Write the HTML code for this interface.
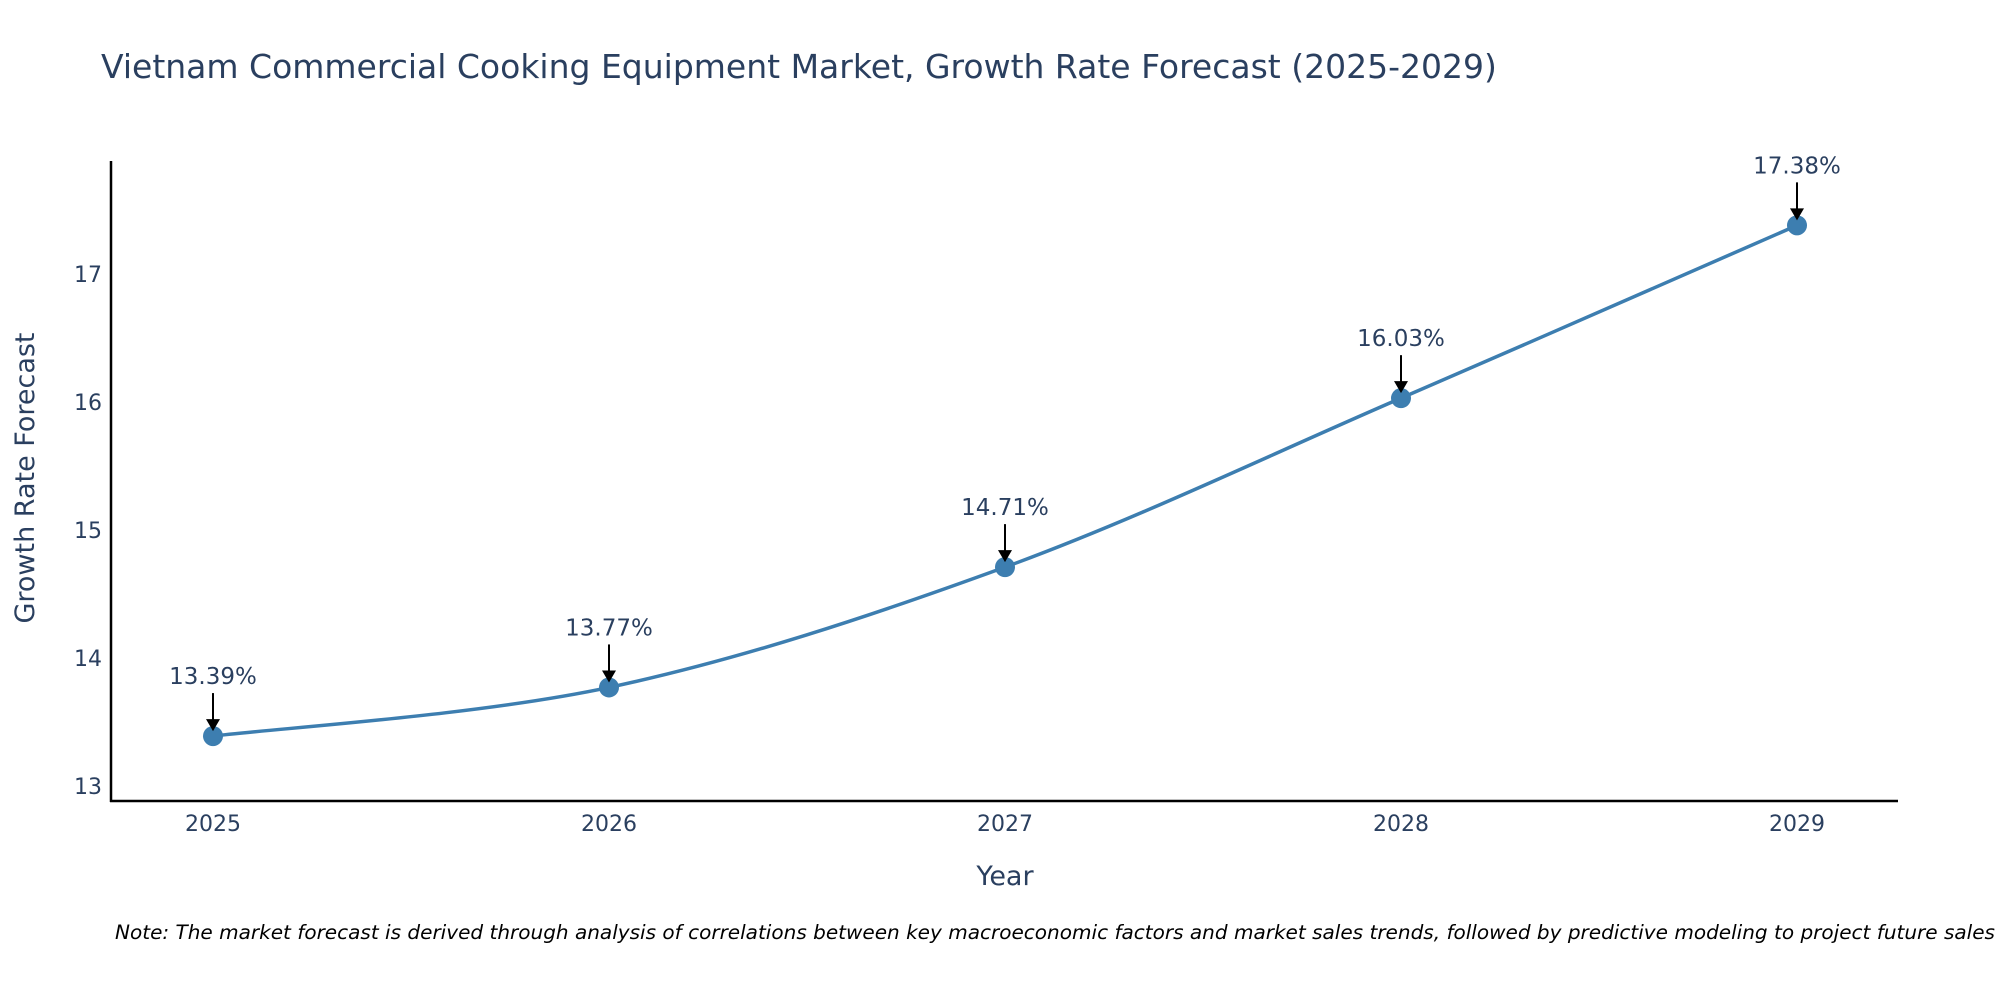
<!DOCTYPE html>
<html><head><meta charset="utf-8"><style>
body{margin:0;background:#fff}
svg{font-family:"DejaVu Sans","Liberation Sans",sans-serif}
</style></head><body>
<svg id="chart" width="2000" height="1000">
<text x="101" y="78" font-size="33" fill="#2a3f5f">Vietnam Commercial Cooking Equipment Market, Growth Rate Forecast (2025-2029)</text>
<g id="yticks"></g><g id="xticks"></g>
<line x1="111" y1="161" x2="111" y2="802" stroke="#000" stroke-width="2.5"/>
<line x1="110" y1="801" x2="1898" y2="801" stroke="#000" stroke-width="2.5"/>
<path id="line" fill="none" stroke="#3d7eb0" stroke-width="3.5"/>
<g id="marks"></g>
<text x="1005" y="885" font-size="27" fill="#2a3f5f" text-anchor="middle">Year</text>
<text transform="translate(34,478) rotate(-90)" font-size="27" fill="#2a3f5f" text-anchor="middle">Growth Rate Forecast</text>
<text x="115" y="939" font-size="19.5" font-style="italic" fill="#000" textLength="1880" lengthAdjust="spacingAndGlyphs">Note: The market forecast is derived through analysis of correlations between key macroeconomic factors and market sales trends, followed by predictive modeling to project future sales</text>
</svg>
<script>
const years=[2025,2026,2027,2028,2029];
const values=[13.39,13.77,14.71,16.03,17.38];
const labels=["13.39%","13.77%","14.71%","16.03%","17.38%"];
const yTicks=[13,14,15,16,17];
const NS="http://www.w3.org/2000/svg";
const xs=y=>213+(y-2025)*396;
const ys=v=>786-(v-13)*128;
function mk(t,a,p){const e=document.createElementNS(NS,t);for(const k in a)e.setAttribute(k,a[k]);p.appendChild(e);return e;}
const yt=document.getElementById('yticks');
yTicks.forEach(t=>{const e=mk('text',{x:102,y:ys(t)+8,'font-size':22,fill:'#2a3f5f','text-anchor':'end'},yt);e.textContent=t;

});
const xt=document.getElementById('xticks');
years.forEach(t=>{const e=mk('text',{x:xs(t),y:831,'font-size':22,fill:'#2a3f5f','text-anchor':'middle'},xt);e.textContent=t;

});
const P=years.map((y,i)=>[xs(y),ys(values[i])]);
let d=`M${P[0][0]},${P[0][1]}`;
for(let i=0;i<P.length-1;i++){const p0=P[Math.max(i-1,0)],p1=P[i],p2=P[i+1],p3=P[Math.min(i+2,P.length-1)];const s=1/6;
d+=` C${p1[0]+(p2[0]-p0[0])*s},${p1[1]+(p2[1]-p0[1])*s} ${p2[0]-(p3[0]-p1[0])*s},${p2[1]-(p3[1]-p1[1])*s} ${p2[0]},${p2[1]}`;}
document.getElementById('line').setAttribute('d',d);
const g=document.getElementById('marks');
P.forEach((p,i)=>{
const c=mk('circle',{cx:p[0],cy:p[1],r:10,fill:'#3d7eb0'},g);


const l=mk('line',{x1:p[0],y1:p[1]-43,x2:p[0],y2:p[1]-14,stroke:'#000','stroke-width':2},g);


const a=mk('polygon',{points:`${p[0]-7},${p[1]-17} ${p[0]+7},${p[1]-17} ${p[0]},${p[1]-5}`,fill:'#000'},g);


const t=mk('text',{x:p[0],y:p[1]-52,'font-size':23,fill:'#2a3f5f','text-anchor':'middle'},g);t.textContent=labels[i];


});
</script>
</body></html>
